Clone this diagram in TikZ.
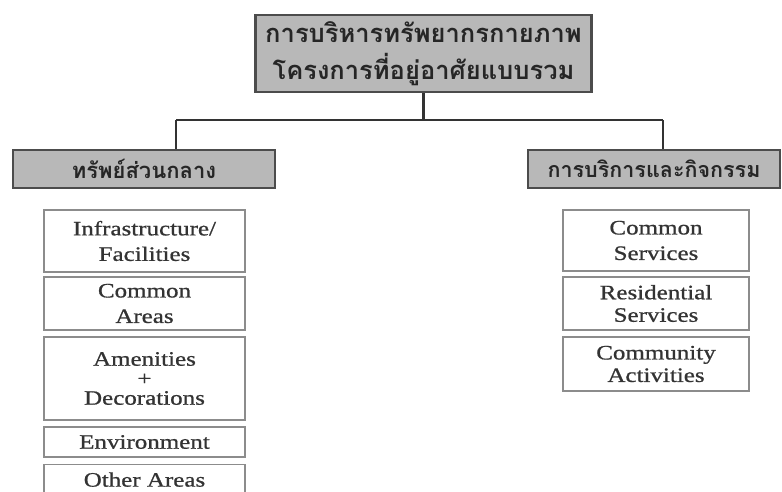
\documentclass[tikz,border=0pt]{standalone}
\usepackage{fontspec}
\setmainfont{Liberation Serif}[FakeStretch=1.22,FakeBold=0.8]
\newfontfamily\thaifont[Script=Thai]{Loma}
\begin{document}
\begin{tikzpicture}[x=1pt,y=-1pt,
  hdr/.style={draw=black!70, line width=2.5pt, fill=black!28, inner sep=0pt, align=center, font=\thaifont\bfseries\fontsize{22}{30}\selectfont, text=black!85},
  item/.style={draw=black!45, line width=1.2pt, fill=white, inner sep=0pt, align=center, font=\fontsize{20.5}{25.5}\selectfont, text=black!80},
  conn/.style={draw=black!80, line width=2.8pt}]
\useasboundingbox (0,0) rectangle (782,491);
\clip (0,0) rectangle (782,491);
% header nodes
\node[hdr, minimum width=336pt, minimum height=77pt, font=\thaifont\bfseries\fontsize{25.5}{37}\selectfont] (title) at (423.5,53.5) {การบริหารทรัพยากรกายภาพ\\โครงการที่อยู่อาศัยแบบรวม};
\node[hdr, minimum width=262pt, minimum height=38pt] (lh) at (144,169) {ทรัพย์ส่วนกลาง};
\node[hdr, minimum width=252pt, minimum height=38pt, font=\thaifont\bfseries\fontsize{21.5}{30}\selectfont] (rh) at (654,169) {การบริการและกิจกรรม};
% connectors
\coordinate (jl) at (176,120);
\coordinate (jr) at (663,120);
\draw[conn] (title.south) -- (title.south |- jl);
\draw[conn] (jl) -- (jr);
\draw[conn] (jl) -- (jl |- lh.north);
\draw[conn] (jr) -- (jr |- rh.north);
% left list
\node[item, minimum width=201pt, minimum height=62pt] (l1) at (144.5,241) {Infrastructure/\\Facilities};
\node[item, minimum width=201pt, minimum height=53pt] (l2) at (144.5,303.5) {Common\\Areas};
\node[item, minimum width=201pt, minimum height=83pt] (l3) at (144.5,378.5) {Amenities\\[-6pt]+\\[-6pt]Decorations};
\node[item, minimum width=201pt, minimum height=30pt] (l4) at (144.5,442) {Environment};
\node[item, minimum width=201pt, minimum height=30pt, anchor=north] (l5) at (144.5,464) {Other Areas};
% right list
\node[item, minimum width=186pt, minimum height=61pt] (r1) at (656,240.5) {Common\\Services};
\node[item, minimum width=186pt, minimum height=53pt] (r2) at (656,303.5) {Residential\\[-3pt]Services};
\node[item, minimum width=186pt, minimum height=54pt] (r3) at (656,364) {Community\\[-3pt]Activities};
\end{tikzpicture}
\end{document}
